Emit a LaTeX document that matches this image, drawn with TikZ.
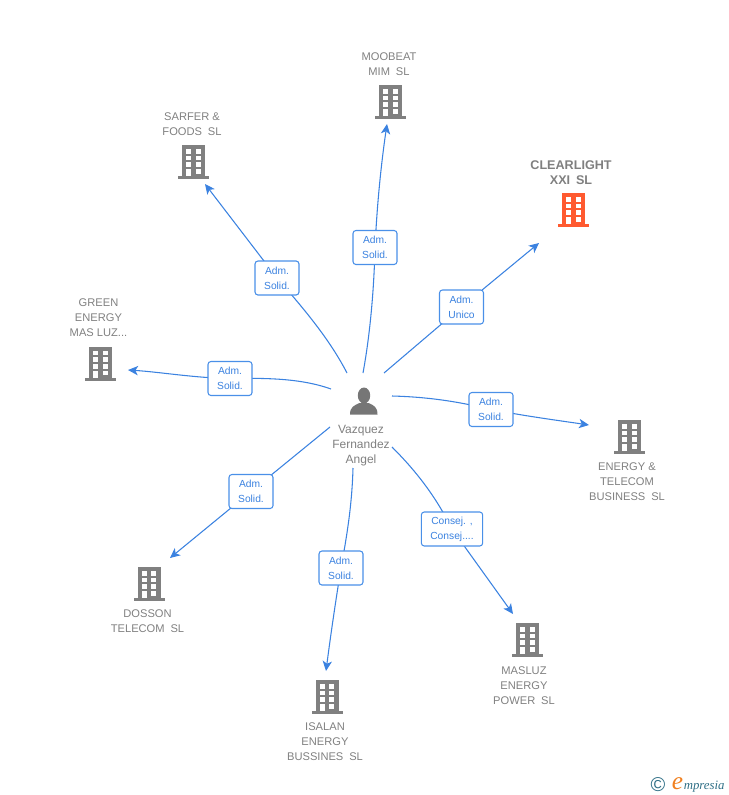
\documentclass[tikz,border=0pt]{standalone}
\usepackage{fontspec}
\setmainfont{Liberation Sans}
\newfontfamily\logofont{Liberation Serif}
\usetikzlibrary{arrows.meta}
\definecolor{edgeblue}{HTML}{3B82E0}
\definecolor{boxblue}{HTML}{4A90E8}
\definecolor{labelgrey}{HTML}{808080}
\definecolor{iconorange}{HTML}{FF5A30}
\definecolor{logoteal}{HTML}{2F6F86}
\definecolor{logoorange}{HTML}{F08020}
\newcommand{\wgap}{\hspace{4.4pt}}
\tikzset{
  x=0.75pt,y=-0.75pt,
  edge/.style={draw=edgeblue,line width=0.8pt},
  arrowedge/.style={edge,-{Stealth[length=7.5pt,width=7pt,inset=2pt]}},
  relbox/.style={draw=boxblue,line width=0.8pt,rounded corners=2.2pt,fill=white,text=edgeblue,
    minimum width=33pt,minimum height=25.5pt,inner sep=0pt,align=center,
    font=\fontsize{7.7}{11.25}\selectfont},
  complabel/.style={text=labelgrey,align=center,inner sep=0pt,font=\fontsize{8.35}{11.25}\selectfont},
  mainlabel/.style={text=labelgrey,align=center,inner sep=0pt,font=\fontsize{9.45}{11.25}\selectfont\bfseries},
  pics/building/.style={code={
    \fill[#1] (-11.5,-17) rectangle (11.5,14);
    \fill[#1] (-15.5,14) rectangle (15.5,17);
    \foreach \yy in {-13,-6.3,0.4}{
      \fill[white] (-7.5,\yy) rectangle (-2.3,\yy+4.6);
      \fill[white] (2,\yy) rectangle (7.2,\yy+4.6);
    }
    \fill[white] (-7.5,7.1) rectangle (-2.3,14);
    \fill[white] (2,7.1) rectangle (7.2,11.7);
  }},
}
\begin{document}
\begin{tikzpicture}
\useasboundingbox (0,0) rectangle (728,795);
% company icons
\pic at (390.5,102) {building=labelgrey};
\pic at (193.5,162) {building=labelgrey};
\pic at (573.5,210) {building=iconorange};
\pic at (100.5,363.5) {building=labelgrey};
\pic at (629.5,437) {building=labelgrey};
\pic at (149,584) {building=labelgrey};
\pic at (327,697) {building=labelgrey};
\pic at (527.5,640) {building=labelgrey};
% person icon
\fill[labelgrey!92!black] (364,395.5) ellipse (6.2 and 8);
\fill[labelgrey!92!black] (350,414.5) .. controls (350,407) and (354,405.5) .. (359.5,403) -- (368.5,403)
   .. controls (374,405.5) and (377.5,407) .. (377.5,414.5) -- cycle;
% labels
\node[complabel] (moobeat) at (389,64.5) {MOOBEAT\\MIM\wgap SL};
\node[complabel] (sarfer) at (192,124.5) {SARFER \&\\FOODS\wgap SL};
\node[mainlabel] (clearlight) at (571,173) {CLEARLIGHT\\XXI\wgap SL};
\node[complabel] (green) at (98.5,318) {GREEN\\ENERGY\\MAS LUZ...};
\node[complabel] (energy) at (627,482) {ENERGY \&\\TELECOM\\BUSINESS\wgap SL};
\node[complabel] (dosson) at (147.5,621.5) {DOSSON\\TELECOM\wgap SL};
\node[complabel] (isalan) at (325,742) {ISALAN\\ENERGY\\BUSSINES\wgap SL};
\node[complabel] (masluz) at (524,686) {MASLUZ\\ENERGY\\POWER\wgap SL};
\node[complabel,font=\fontsize{9}{11.25}\selectfont] (person) at (361,445.5) {Vazquez\\Fernandez\\Angel};
% connector ends
\coordinate (s1) at (363,373); \coordinate (e1) at (387,124);
\coordinate (s2) at (384,373); \coordinate (e2) at (539,243);
\coordinate (s3) at (347,373); \coordinate (e3) at (205,184);
\coordinate (s4) at (331,389); \coordinate (e4) at (128,370);
\coordinate (s5) at (392,396); \coordinate (e5) at (589,425);
\coordinate (s6) at (392,447); \coordinate (e6) at (513,614);
\coordinate (s7) at (353,468); \coordinate (e7) at (326,671);
\coordinate (s8) at (330,427); \coordinate (e8) at (170,558);
% relation boxes positions
\coordinate (c1) at (375,247.5);
\coordinate (c2) at (461.5,307);
\coordinate (c3) at (277,278);
\coordinate (c4) at (230,378.5);
\coordinate (c5) at (491,409.5);
\coordinate (c6) at (452,529);
\coordinate (c7) at (341,568);
\coordinate (c8) at (251,491.5);
% connectors
\draw[edge] (s1) .. controls (370,335) and (374,290) .. (c1);
\draw[arrowedge] (c1) .. controls (377,205) and (381,165) .. (e1);
\draw[edge] (s2) -- (c2);
\draw[arrowedge] (c2) -- (e2);
\draw[edge] (s3) .. controls (330,340) and (305,310) .. (c3);
\draw[arrowedge] (c3) -- (e3);
\draw[edge] (s4) .. controls (300,378) and (265,378) .. (c4);
\draw[arrowedge] (c4) .. controls (195,378) and (160,372) .. (e4);
\draw[edge] (s5) .. controls (430,397) and (460,402) .. (c5);
\draw[arrowedge] (c5) .. controls (525,416) and (555,420) .. (e5);
\draw[edge] (s6) .. controls (415,470) and (435,495) .. (c6);
\draw[arrowedge] (c6) -- (e6);
\draw[edge] (s7) .. controls (352,505) and (347,535) .. (c7);
\draw[arrowedge] (c7) .. controls (335,605) and (330,640) .. (e7);
\draw[edge] (s8) -- (c8);
\draw[arrowedge] (c8) -- (e8);
% relation boxes
\node[relbox] (b1) at (c1) {Adm.\\Solid.};
\node[relbox] (b2) at (c2) {Adm.\\Unico};
\node[relbox] (b3) at (c3) {Adm.\\Solid.};
\node[relbox] (b4) at (c4) {Adm.\\Solid.};
\node[relbox] (b5) at (c5) {Adm.\\Solid.};
\node[relbox,minimum width=46pt] (b6) at (c6) {Consej. ,\\Consej....};
\node[relbox] (b7) at (c7) {Adm.\\Solid.};
\node[relbox] (b8) at (c8) {Adm.\\Solid.};
% logo
\node[text=logoteal,inner sep=0pt,font=\fontsize{15}{15}\selectfont] (logoc) at (658,784.5) {©};
\node[text=logoorange,inner sep=0pt,anchor=base east,font=\logofont\itshape\fontsize{19}{19}\selectfont] (logoe) at (683.5,789.5) {e};
\node[text=logoteal,inner sep=0pt,anchor=base west,font=\logofont\itshape\fontsize{9.6}{10}\selectfont] (logot) at (683.5,789.5) {mpresia};
\end{tikzpicture}
\end{document}
